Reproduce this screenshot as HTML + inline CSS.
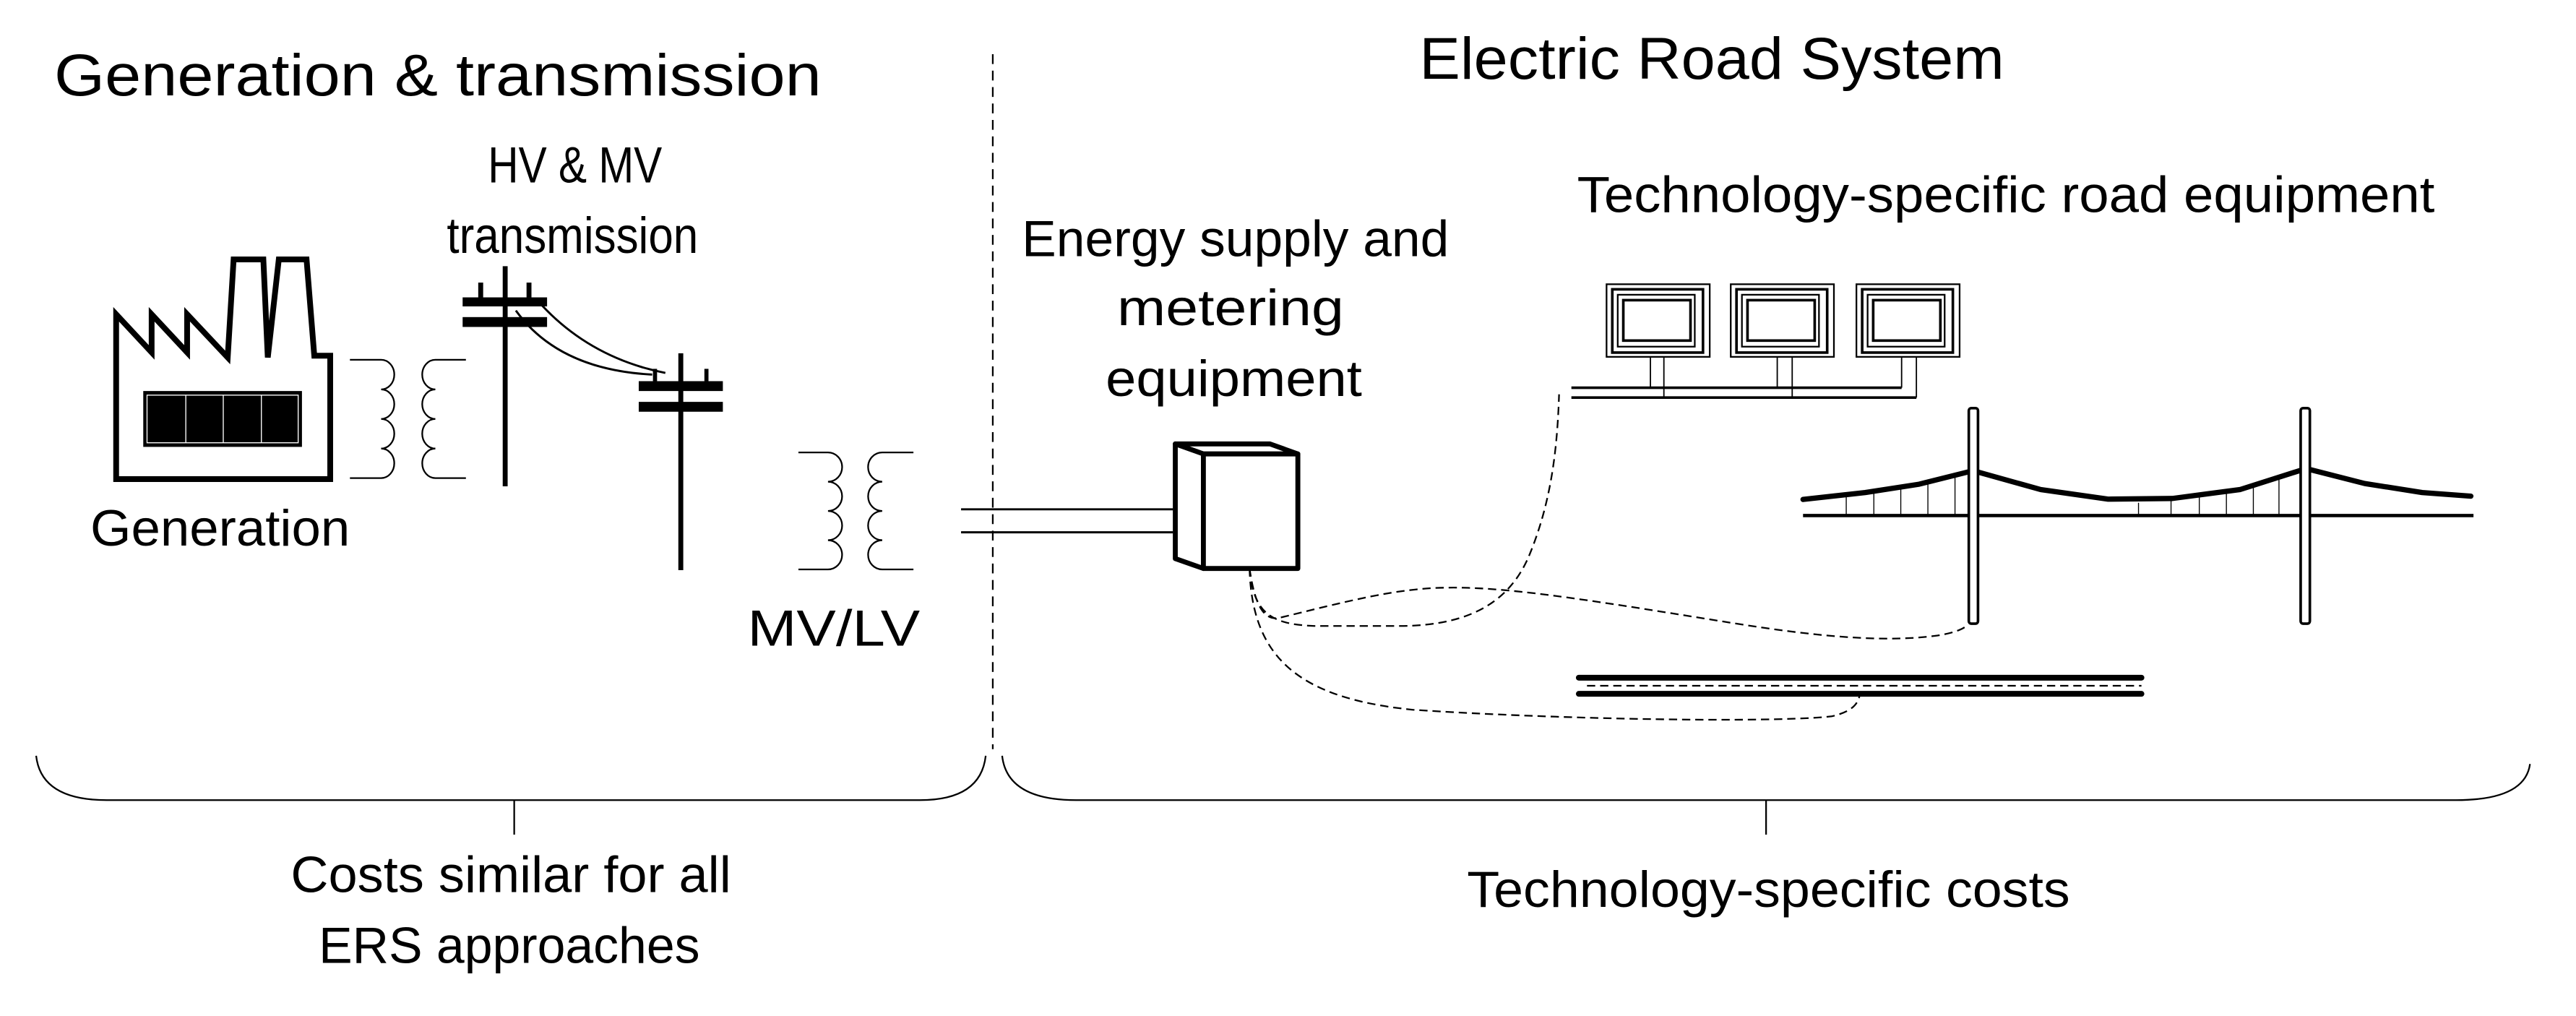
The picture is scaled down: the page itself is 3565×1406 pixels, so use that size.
<!DOCTYPE html>
<html><head><meta charset="utf-8"><style>
html,body{margin:0;padding:0;background:#fff;}
svg{display:block;}
text{font-family:"Liberation Sans",sans-serif;fill:#000;}
</style></head><body>
<svg width="3565" height="1406" viewBox="0 0 1568 618.4" preserveAspectRatio="none" xmlns="http://www.w3.org/2000/svg">
<rect width="1568" height="618.4" fill="#fff"/>
<!-- Titles -->
<text x="33" y="58" font-size="36" textLength="467" lengthAdjust="spacingAndGlyphs">Generation &amp; transmission</text>
<text x="864" y="48" font-size="36" textLength="356" lengthAdjust="spacingAndGlyphs">Electric Road System</text>
<text x="297" y="111" font-size="31" textLength="106" lengthAdjust="spacingAndGlyphs">HV &amp; MV</text>
<text x="272" y="154" font-size="31" textLength="153" lengthAdjust="spacingAndGlyphs">transmission</text>
<text x="55" y="332" font-size="31" textLength="158" lengthAdjust="spacingAndGlyphs">Generation</text>
<text x="455" y="393" font-size="31" textLength="105" lengthAdjust="spacingAndGlyphs">MV/LV</text>
<text x="622" y="156" font-size="31" textLength="260" lengthAdjust="spacingAndGlyphs">Energy supply and</text>
<text x="680" y="198" font-size="31" textLength="138" lengthAdjust="spacingAndGlyphs">metering</text>
<text x="673" y="241" font-size="31" textLength="156" lengthAdjust="spacingAndGlyphs">equipment</text>
<text x="960" y="129" font-size="31" textLength="522" lengthAdjust="spacingAndGlyphs">Technology-specific road equipment</text>
<text x="177" y="543" font-size="31" textLength="268" lengthAdjust="spacingAndGlyphs">Costs similar for all</text>
<text x="194" y="586" font-size="31" textLength="232" lengthAdjust="spacingAndGlyphs">ERS approaches</text>
<text x="893" y="552" font-size="31" textLength="367" lengthAdjust="spacingAndGlyphs">Technology-specific costs</text>

<!-- dashed separator -->
<line x1="604.3" y1="33" x2="604.3" y2="456" stroke="#000" stroke-width="1" stroke-dasharray="6,4"/>

<!-- braces -->
<g fill="none" stroke="#000" stroke-width="1">
<path d="M22,460 Q25,487 65,487 L560,487 Q597,487 600,460"/>
<line x1="313" y1="487" x2="313" y2="508"/>
<path d="M610,460 Q613,487 655,487 L1495,487 Q1537,487 1540,465"/>
<line x1="1075" y1="487" x2="1075" y2="508"/>
</g>

<!-- factory -->
<path d="M70.7,191.3 L92.3,214.5 L92.3,191.3 L113.9,214.5 L113.9,191.3 L138.6,217.6 L142.2,157.9 L160.3,157.9 L163,217.6 L169.7,157.9 L186.6,157.9 L191.3,216.5 L201,216.5 L201,291.6 L70.7,291.6 Z" fill="#fff" stroke="#000" stroke-width="3.5" stroke-linejoin="miter"/>
<rect x="87.2" y="238" width="96.6" height="34" fill="#000"/>
<g stroke="#fff" stroke-width="0.6" fill="none">
<rect x="89.5" y="240.5" width="92" height="29"/>
<line x1="113.1" y1="240.5" x2="113.1" y2="269.5"/>
<line x1="135.9" y1="240.5" x2="135.9" y2="269.5"/>
<line x1="159.1" y1="240.5" x2="159.1" y2="269.5"/>
</g>

<!-- coils -->
<g fill="none" stroke="#000" stroke-width="1">
<path d="M213,219 H232 a8,9 0 0 1 0,18 a8,9 0 0 1 0,18 a8,9 0 0 1 0,18 a8,9 0 0 1 0,18 H213"/>
<path d="M283.6,219 H265 a8,9 0 0 0 0,18 a8,9 0 0 0 0,18 a8,9 0 0 0 0,18 a8,9 0 0 0 0,18 H283.6"/>
<path d="M486,275.4 H504 a8.6,8.9 0 0 1 0,17.8 a8.6,8.9 0 0 1 0,17.8 a8.6,8.9 0 0 1 0,17.8 a8.6,8.9 0 0 1 0,17.8 H486"/>
<path d="M556,275.4 H537 a8.6,8.9 0 0 0 0,17.8 a8.6,8.9 0 0 0 0,17.8 a8.6,8.9 0 0 0 0,17.8 a8.6,8.9 0 0 0 0,17.8 H556"/>
</g>

<!-- poles -->
<g stroke="#000" fill="none">
<line x1="307.5" y1="162" x2="307.5" y2="296" stroke-width="3"/>
<rect x="281.6" y="181" width="51.4" height="5.5" fill="#000" stroke="none"/>
<rect x="281.6" y="193" width="51.4" height="6" fill="#000" stroke="none"/>
<line x1="292.6" y1="172" x2="292.6" y2="181" stroke-width="3"/>
<line x1="322" y1="172" x2="322" y2="181" stroke-width="3"/>
<line x1="414.4" y1="215" x2="414.4" y2="347" stroke-width="3"/>
<rect x="388.8" y="232" width="51.2" height="6" fill="#000" stroke="none"/>
<rect x="388.8" y="244.6" width="51.2" height="6" fill="#000" stroke="none"/>
<line x1="398.7" y1="224.5" x2="398.7" y2="232" stroke-width="2.5"/>
<line x1="430" y1="224.5" x2="430" y2="232" stroke-width="2.5"/>
<path d="M314,189 Q340,225 397,228" stroke-width="1.3"/>
<path d="M330,186 Q360,218 405,227" stroke-width="1.3"/>
</g>

<!-- feed lines to box -->
<g stroke="#000" stroke-width="1.3">
<line x1="585" y1="310" x2="714" y2="310"/>
<line x1="585" y1="324" x2="714" y2="324"/>
</g>

<!-- box -->
<g fill="#fff" stroke="#000" stroke-width="3" stroke-linejoin="round">
<path d="M715.4,270.2 L773,270.2 L790,276.3 L732.5,276.3 Z"/>
<path d="M715.4,270.2 L732.5,276.3 L732.5,346 L715.4,340 Z"/>
<rect x="732.5" y="276.3" width="57.5" height="69.7"/>
</g>

<!-- signs -->
<g fill="none" stroke="#000">
<g>
<rect x="977.9" y="173" width="62.8" height="44.2" stroke-width="1"/>
<rect x="981.4" y="176.1" width="55.2" height="38.5" stroke-width="1.6"/>
<rect x="984.7" y="179.4" width="46.9" height="31.6" stroke-width="1"/>
<rect x="988.1" y="182.7" width="40.9" height="24.6" stroke-width="1.6"/>
</g>
<g transform="translate(75.6,0)">
<rect x="977.9" y="173" width="62.8" height="44.2" stroke-width="1"/>
<rect x="981.4" y="176.1" width="55.2" height="38.5" stroke-width="1.6"/>
<rect x="984.7" y="179.4" width="46.9" height="31.6" stroke-width="1"/>
<rect x="988.1" y="182.7" width="40.9" height="24.6" stroke-width="1.6"/>
</g>
<g transform="translate(152.1,0)">
<rect x="977.9" y="173" width="62.8" height="44.2" stroke-width="1"/>
<rect x="981.4" y="176.1" width="55.2" height="38.5" stroke-width="1.6"/>
<rect x="984.7" y="179.4" width="46.9" height="31.6" stroke-width="1"/>
<rect x="988.1" y="182.7" width="40.9" height="24.6" stroke-width="1.6"/>
</g>
<g stroke-width="0.8">
<line x1="1004.6" y1="217.2" x2="1004.6" y2="236"/>
<line x1="1012.8" y1="217.2" x2="1012.8" y2="242"/>
<line x1="1081.8" y1="217.2" x2="1081.8" y2="236"/>
<line x1="1090.9" y1="217.2" x2="1090.9" y2="242"/>
<line x1="1157.5" y1="217.2" x2="1157.5" y2="236"/>
<line x1="1166.5" y1="217.2" x2="1166.5" y2="242"/>
</g>
<line x1="956.5" y1="236" x2="1157.5" y2="236" stroke-width="1.6"/>
<line x1="956.5" y1="242" x2="1166.5" y2="242" stroke-width="1.6"/>
</g>

<!-- bridge -->
<g fill="none" stroke="#000">
<g stroke-width="0.6">
<line x1="1123.8" y1="302" x2="1123.8" y2="313.8"/>
<line x1="1140.6" y1="299" x2="1140.6" y2="313.8"/>
<line x1="1157" y1="296" x2="1157" y2="313.8"/>
<line x1="1173.5" y1="293" x2="1173.5" y2="313.8"/>
<line x1="1190" y1="288" x2="1190" y2="313.8"/>
<line x1="1301.7" y1="306" x2="1301.7" y2="313.8"/>
<line x1="1321.5" y1="304" x2="1321.5" y2="313.8"/>
<line x1="1338.7" y1="301" x2="1338.7" y2="313.8"/>
<line x1="1355.2" y1="299" x2="1355.2" y2="313.8"/>
<line x1="1371.6" y1="296" x2="1371.6" y2="313.8"/>
<line x1="1387.2" y1="291" x2="1387.2" y2="313.8"/>
</g>
<line x1="1097.5" y1="313.8" x2="1505.6" y2="313.8" stroke-width="2"/>
<polyline points="1097.5,304 1135.3,299.8 1168.2,294.7 1201,286.5 1242.2,298 1283.2,303.8 1322.3,303.4 1363.4,298 1403.7,285.2 1439.4,294.3 1474.4,299.8 1504,302" stroke-width="3.2" stroke-linejoin="round" stroke-linecap="round"/>
<rect x="1198.4" y="248.4" width="5.6" height="131.2" rx="1.5" fill="#fff" stroke-width="1.6"/>
<rect x="1400.4" y="248.4" width="5.6" height="131.2" rx="1.5" fill="#fff" stroke-width="1.6"/>
</g>

<!-- track -->
<g stroke="#000" fill="none">
<line x1="961" y1="412.5" x2="1303.5" y2="412.5" stroke-width="3.5" stroke-linecap="round"/>
<line x1="961" y1="422.3" x2="1303.5" y2="422.3" stroke-width="3.5" stroke-linecap="round"/>
<line x1="966" y1="417.4" x2="1303.5" y2="417.4" stroke-width="1" stroke-dasharray="5,3"/>
</g>

<!-- dashed connectors -->
<g fill="none" stroke="#000" stroke-width="1" stroke-dasharray="5,3">
<path d="M760.6,346 C 763,372 772,380 800,381 L852,381 C 900,381 920,362 930,340 C 945,305 948,270 949,240"/>
<path d="M760.6,346 C 764,370 770,378 779,376 C 820,366 850,358 880,357.7 C 915,357 960,364 1047,378 C 1090,385 1140,392 1178,387 Q1192,385 1197,381"/>
<path d="M760.6,346 C 762,400 790,425 860,432 C 950,438 1080,440 1115,436 C 1128,433 1131,428 1132,423"/>
</g>
</svg>
</body></html>
